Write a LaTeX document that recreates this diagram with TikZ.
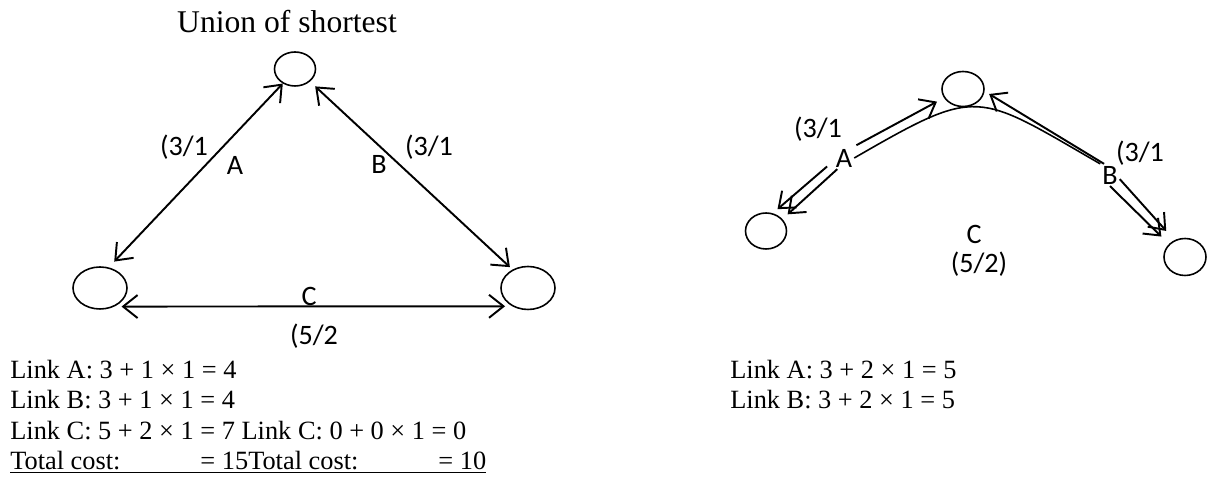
\documentclass[tikz,border=0pt]{standalone}
\usepackage{fontspec}
\setmainfont{Liberation Serif}
\newfontfamily\labelfont{Carlito}
\usetikzlibrary{arrows.meta,shapes.geometric}

\begin{document}
\begin{tikzpicture}[
  x=0.02cm, y=-0.02cm,
  vert/.style={draw, ellipse, line width=0.9pt, inner sep=0pt},
  lbl/.style={font=\labelfont\fontsize{16}{19}\selectfont, inner sep=1pt},
  txt/.style={font=\fontsize{15}{18}\selectfont, inner sep=0pt, anchor=base west},
  link/.style={line width=1.1pt, {Straight Barb[length=2.9mm,width=4.6mm]}-{Straight Barb[length=2.9mm,width=4.6mm]}},
  flow/.style={line width=1.1pt, -{Straight Barb[length=2.8mm,width=4.4mm]}},
]
  \useasboundingbox (0,0) rectangle (1208,479);

  % Left: union of shortest
  \node[font=\fontsize{18}{21}\selectfont] (title) at (287,22) {Union of shortest};
  \node[vert, minimum width=0.82cm, minimum height=0.68cm] (top) at (295,69) {};
  \node[vert, minimum width=1.08cm, minimum height=0.84cm] (bl) at (100,288) {};
  \node[vert, minimum width=1.08cm, minimum height=0.86cm] (br) at (528,288) {};

  \draw[link, shorten <=4.5pt] (bl.67) -- (top.230);
  \draw[link, shorten <=4pt, shorten >=2pt] (top.-40) -- (br.130);
  \draw[link, shorten <=4pt, shorten >=4pt] (bl.-52) -- (br.229);

  \node[lbl] (aw) at (184,147) {(3/1};
  \node[lbl] (an) at (235,165) {A};
  \node[lbl] (bn) at (379,164) {B};
  \node[lbl] (bw) at (429,147) {(3/1};
  \node[lbl] (cn) at (309,296) {C};
  \node[lbl] (cw) at (314,336) {(5/2};

  % Left costs
  \node[txt] (la) at (10,379) {Link A: 3 + 1 × 1 = 4};
  \node[txt] (lb) at (10,409) {Link B: 3 + 1 × 1 = 4};
  \node[txt] (lc) at (10,440) {Link C: 5 + 2 × 1 = 7 Link C: 0 + 0 × 1 = 0};
  \node[txt] (lt) at (10,470) {\underline{Total cost:\hspace*{1.6cm}= 15Total cost:\hspace*{1.6cm}= 10}};

  % Right: paths over A and B
  \node[vert, minimum width=0.84cm, minimum height=0.7cm] (rt) at (963,89) {};
  \node[vert, minimum width=0.82cm, minimum height=0.72cm] (rl) at (766,231) {};
  \node[vert, minimum width=0.84cm, minimum height=0.74cm] (rr) at (1185,257) {};

  \node[lbl] (ra) at (844,158) {A};
  \node[lbl] (rb) at (1110,175) {B};
  \node[lbl] (raw) at (818,129) {(3/1};
  \node[lbl] (rbw) at (1140,153) {(3/1};
  \node[lbl] (rc) at (974,234) {C};
  \node[lbl] (rcw) at (979,264) {(5/2)};

  \draw[line width=0.9pt] (ra.east) to[out=30, in=150, looseness=1.5] (rb.north west);

  \draw[flow, shorten <=2pt, shorten >=4.5pt] (ra.50) -- (rt.205);
  \draw[flow, shorten <=5pt, shorten >=3.5pt] (ra.195) -- (rl.69);
  \draw[flow, shorten >=4pt] (ra.239) -- (rl.36);
  \draw[flow, shorten >=3pt] (rb.118) -- (rt.-6);
  \draw[flow, shorten >=7pt] (rb.-23) -- (rr.122);
  \draw[flow, shorten >=6pt] (rb.-90) -- (rr.141);

  % Right costs
  \node[txt] (ra1) at (730,379) {Link A: 3 + 2 × 1 = 5};
  \node[txt] (rb1) at (730,409) {Link B: 3 + 2 × 1 = 5};
\end{tikzpicture}
\end{document}
